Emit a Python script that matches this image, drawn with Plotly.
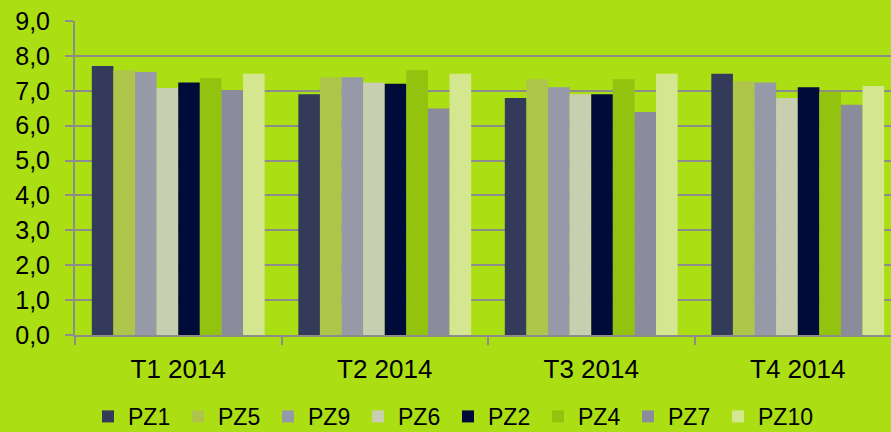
import plotly.graph_objects as go

categories = ["T1 2014", "T2 2014", "T3 2014", "T4 2014"]
series_names = ["PZ1", "PZ5", "PZ9", "PZ6", "PZ2", "PZ4", "PZ7", "PZ10"]
pz1 = [7.71, 6.90, 6.79, 7.49]
pz5 = [7.59, 7.39, 7.33, 7.27]
pz9 = [7.54, 7.39, 7.10, 7.24]
pz6 = [7.08, 7.24, 6.90, 6.79]
pz2 = [7.24, 7.20, 6.90, 7.10]
pz4 = [7.36, 7.59, 7.33, 6.97]
pz7 = [7.01, 6.49, 6.39, 6.60]
pz10 = [7.49, 7.49, 7.49, 7.14]
y_ticks = [0, 1, 2, 3, 4, 5, 6, 7, 8, 9]
y_tick_labels = ["0,0", "1,0", "2,0", "3,0", "4,0", "5,0", "6,0", "7,0", "8,0", "9,0"]

values = [pz1, pz5, pz9, pz6, pz2, pz4, pz7, pz10]
colors = ["#333A5A", "#AFC44A", "#9699A8", "#C8CFB0", "#000B3A", "#93C20F", "#8A8C9C", "#D5E690"]

fig = go.Figure()
for name, vals, col in zip(series_names, values, colors):
    fig.add_trace(go.Bar(x=categories, y=vals, name=name,
                         marker=dict(color=col, line=dict(width=0))))

# invisible spacer legend entry so the last label is not clipped
fig.add_trace(go.Scatter(x=[None], y=[None], mode="lines", name="",
                         line=dict(width=0, color="rgba(0,0,0,0)"),
                         showlegend=True, hoverinfo="skip"))

BG = "#ABDE13"
GRID = "#8C8C8C"
fig.update_layout(
    width=891, height=432,
    paper_bgcolor=BG, plot_bgcolor=BG,
    barmode="group", bargap=0.163, bargroupgap=0,
    margin=dict(l=75, r=0, t=21, b=97, autoexpand=False),
    font=dict(family="Liberation Sans, Arial, sans-serif", color="#000000"),
    showlegend=True,
    legend=dict(orientation="h", x=88 / 891, xanchor="left", xref="container",
                y=0.036, yanchor="middle", yref="container",
                font=dict(size=23), entrywidth=45, entrywidthmode="pixels",
                bgcolor="rgba(0,0,0,0)", itemclick=False, traceorder="normal"),
)
fig.update_xaxes(
    range=[-0.5, 3.4516], tickson="boundaries", ticks="outside", ticklen=8,
    tickwidth=2, tickcolor=GRID, showline=True, linecolor=GRID, linewidth=2,
    tickfont=dict(size=26), ticklabelstandoff=10, showgrid=False,
    fixedrange=True, automargin=False,
)
fig.update_yaxes(
    range=[0, 9], tickvals=y_ticks, ticktext=y_tick_labels,
    ticks="outside", ticklen=8, tickwidth=2, tickcolor=GRID,
    showline=True, linecolor=GRID, linewidth=2,
    showgrid=True, gridcolor=GRID, gridwidth=2, zeroline=False,
    tickfont=dict(size=25), ticklabelstandoff=10, fixedrange=True, automargin=False,
)

fig.write_html(
    "out.html",
    config={"displayModeBar": False},
    post_script="document.body.style.margin='0';document.body.style.overflow='hidden';",
)
